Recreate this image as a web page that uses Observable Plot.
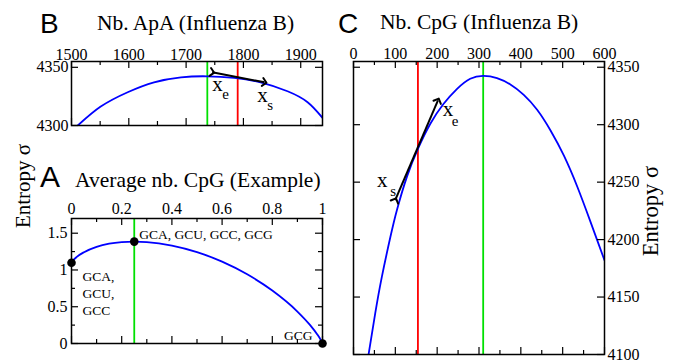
<!DOCTYPE html>
<html><head><meta charset="utf-8">
<script src="https://cdn.jsdelivr.net/npm/d3@7"></script>
<script src="https://cdn.jsdelivr.net/npm/@observablehq/plot@0.6"></script>
<style>
body{margin:0;background:#fff;}
#wrap{position:relative;width:680px;height:360px;overflow:hidden;background:#fff;}
#wrap > svg{position:absolute;}
</style></head><body><div id="wrap"></div>
<script>
// ---------- Panel B: Nb. ApA (Influenza B) ----------
const bX = [1511, 1551, 1598, 1644, 1691, 1737, 1784, 1830, 1877, 1912, 1938];
const bY = [4300, 4316.3, 4328.6, 4337.1, 4341.4, 4342.3, 4340.9, 4337.1, 4329.4, 4320, 4306.6];
const bGreen = 1737, bRed = 1790;
const bArrow = {x1: 1745.6, y1: 4345.7, x2: 1836.8, y2: 4337.1};
const bTopTicks = [1500, 1600, 1700, 1800, 1900];
const bTopMinor = [1550, 1650, 1750, 1850];
const bLeftTicks = [4300, 4350];

// ---------- Panel A: Average nb. CpG (Example) ----------
const aX = [0, 0.005, 0.01, 0.02, 0.05, 0.1, 0.15, 0.2, 0.25, 0.3, 0.4, 0.5, 0.6, 0.7, 0.8, 0.9, 0.95, 0.98, 0.99, 0.995, 1];
const aY = [1.099, 1.125, 1.144, 1.175, 1.242, 1.314, 1.357, 1.379, 1.386, 1.380, 1.332, 1.243, 1.113, 0.941, 0.720, 0.435, 0.253, 0.120, 0.067, 0.037, 0];
const aDotX = [0, 0.25, 1];
const aDotY = [1.099, 1.386, 0];
const aGreen = 0.25;
const aTopTicks = [0, 0.2, 0.4, 0.6, 0.8, 1];
const aTopMinor = [0.1, 0.3, 0.5, 0.7, 0.9];
const aLeftTicks = [0, 0.5, 1, 1.5];
const aLeftMinor = [0.25, 0.75, 1.25];
const aLabelTop = "GCA, GCU, GCC, GCG";
const aLabelLeft = "GCA,\nGCU,\nGCC";
const aLabelEnd = "GCG";

// ---------- Panel C: Nb. CpG (Influenza B) ----------
const cX = [36, 52, 68, 88, 104, 128, 154, 184, 215, 247, 279, 311, 343, 375, 407, 439, 471, 503, 535, 567, 600];
const cY = [4100, 4136, 4168, 4202, 4226, 4255, 4279, 4301, 4318, 4331, 4340, 4342.5, 4340.5, 4335, 4326, 4313, 4295, 4273, 4246, 4215, 4182];
const cGreen = 310, cRed = 154;
const cArrow = {x1: 99.7, y1: 4234.3, x2: 201.9, y2: 4321.1};
const cTopTicks = [0, 100, 200, 300, 400, 500, 600];
const cTopMinor = [50, 150, 250, 350, 450, 550];
const cRightTicks = [4100, 4150, 4200, 4250, 4300, 4350];

const titles = ["Nb. ApA (Influenza B)", "Average nb. CpG (Example)", "Nb. CpG (Influenza B)"];
const letters = ["B", "A", "C"];
const yTitle = "Entropy σ";

const SERIF = "Liberation Serif";
const BLUE = "#0000ff", GREEN = "#00e000", RED = "#ff0000";

function frameTicks({iw, ih, xMajor = [], xMinor = [], yMajor = [], yMinor = [], L = 7, l = 4}) {
  const st = {stroke: "black", strokeWidth: 1.2};
  return [
    Plot.ruleX(xMajor, {...st, insetBottom: ih - L}),
    Plot.ruleX(xMajor, {...st, insetTop: ih - L}),
    Plot.ruleX(xMinor, {...st, insetBottom: ih - l}),
    Plot.ruleX(xMinor, {...st, insetTop: ih - l}),
    Plot.ruleY(yMajor, {...st, insetRight: iw - L}),
    Plot.ruleY(yMajor, {...st, insetLeft: iw - L}),
    Plot.ruleY(yMinor, {...st, insetRight: iw - l}),
    Plot.ruleY(yMinor, {...st, insetLeft: iw - l})
  ];
}

function subLabel(pt, main, sub, dx, dy, sdx, sdy) {
  return [
    Plot.text([pt], {x: "x", y: "y", text: () => main, dx, dy, textAnchor: "start", lineAnchor: "bottom", fontSize: 21, fontFamily: SERIF}),
    Plot.text([pt], {x: "x", y: "y", text: () => sub, dx: sdx, dy: sdy, textAnchor: "start", lineAnchor: "bottom", fontSize: 15, fontFamily: SERIF})
  ];
}

const axisOpts = {tickSize: 0, label: null, fontSize: 16, fontFamily: SERIF, tickFormat: d => String(d)};
const baseStyle = {fontFamily: SERIF, fontSize: "16px", background: "transparent", color: "black", overflow: "visible"};
const wrap = document.getElementById("wrap");

// ---- B ----
{
  const mt = 61, mb = 15, ml = 71, mr = 18, w = 340, h = 140;
  const iw = w - ml - mr, ih = h - mt - mb;
  const data = bX.map((x, i) => ({x, y: bY[i]}));
  const p = Plot.plot({
    width: w, height: h, marginTop: mt, marginBottom: mb, marginLeft: ml, marginRight: mr,
    style: baseStyle,
    x: {domain: [1500, 1938]}, y: {domain: [4300, 4355]},
    marks: [
      Plot.ruleX([bGreen], {stroke: GREEN, strokeWidth: 1.8}),
      Plot.ruleX([bRed], {stroke: RED, strokeWidth: 1.8}),
      Plot.line(data, {x: "x", y: "y", stroke: BLUE, strokeWidth: 1.8, curve: "natural", clip: true}),
      Plot.link([bArrow], {x1: "x1", y1: "y1", x2: "x2", y2: "y2", stroke: "black", strokeWidth: 2, markerStart: "arrow", markerEnd: "arrow"}),
      ...subLabel({x: bArrow.x1, y: bArrow.y1}, "x", "e", 0, 18.3, 10, 26.6),
      ...subLabel({x: bArrow.x2, y: bArrow.y2}, "x", "s", -7.3, 20, 2.7, 27.3),
      ...frameTicks({iw, ih, xMajor: bTopTicks, xMinor: bTopMinor, yMajor: bLeftTicks}),
      Plot.axisX(bTopTicks, {...axisOpts, anchor: "top", tickPadding: 2}),
      Plot.axisY(bLeftTicks, {...axisOpts, anchor: "left", tickPadding: 3}),
      Plot.frame({stroke: "black", strokeWidth: 1.5})
    ]
  });
  p.style.left = "0px"; p.style.top = "0px";
  wrap.appendChild(p);
}

// ---- A ----
{
  const mt = 38, mb = 17, ml = 71, mr = 18, w = 340, h = 180;
  const iw = w - ml - mr, ih = h - mt - mb;
  const data = aX.map((x, i) => ({x, y: aY[i]}));
  const dots = aDotX.map((x, i) => ({x, y: aDotY[i]}));
  const p = Plot.plot({
    width: w, height: h, marginTop: mt, marginBottom: mb, marginLeft: ml, marginRight: mr,
    style: baseStyle,
    x: {domain: [0, 1]}, y: {domain: [0, 1.7]},
    marks: [
      Plot.ruleX([aGreen], {stroke: GREEN, strokeWidth: 1.8}),
      Plot.line(data, {x: "x", y: "y", stroke: BLUE, strokeWidth: 1.8, curve: "monotone-x"}),
      ...frameTicks({iw, ih, xMajor: aTopTicks, xMinor: aTopMinor, yMajor: aLeftTicks, yMinor: aLeftMinor}),
      Plot.dot(dots, {x: "x", y: "y", r: 4.3, fill: "black", stroke: "none"}),
      Plot.text([dots[1]], {x: "x", y: "y", text: () => aLabelTop, dx: 5, dy: -3, textAnchor: "start", lineAnchor: "bottom", fontSize: 13.5, fontFamily: SERIF}),
      Plot.text([dots[0]], {x: "x", y: "y", text: () => aLabelLeft, dx: 11, dy: 6.4, textAnchor: "start", lineAnchor: "top", lineHeight: 1.26, fontSize: 13.5, fontFamily: SERIF}),
      Plot.text([dots[2]], {x: "x", y: "y", text: () => aLabelEnd, dx: -10, dy: -4, textAnchor: "end", lineAnchor: "bottom", fontSize: 13.5, fontFamily: SERIF}),
      Plot.axisX(aTopTicks, {...axisOpts, anchor: "top", tickPadding: 5}),
      Plot.axisY(aLeftTicks, {...axisOpts, anchor: "left", tickPadding: 4}),
      Plot.frame({stroke: "black", strokeWidth: 1.5})
    ]
  });
  p.style.left = "0px"; p.style.top = "180px";
  wrap.appendChild(p);
}

// ---- C ----
{
  const mt = 61, mb = 6, ml = 13, mr = 76, w = 340, h = 360;
  const iw = w - ml - mr, ih = h - mt - mb;
  const data = cX.map((x, i) => ({x, y: cY[i]}));
  const p = Plot.plot({
    width: w, height: h, marginTop: mt, marginBottom: mb, marginLeft: ml, marginRight: mr,
    style: baseStyle,
    x: {domain: [0, 600]}, y: {domain: [4100, 4355]},
    marks: [
      Plot.ruleX([cGreen], {stroke: GREEN, strokeWidth: 1.8}),
      Plot.ruleX([cRed], {stroke: RED, strokeWidth: 1.8}),
      Plot.line(data, {x: "x", y: "y", stroke: BLUE, strokeWidth: 1.8, curve: "natural", clip: true}),
      Plot.link([cArrow], {x1: "x1", y1: "y1", x2: "x2", y2: "y2", stroke: "black", strokeWidth: 2, markerStart: "arrow", markerEnd: "arrow"}),
      ...subLabel({x: cArrow.x1, y: cArrow.y1}, "x", "s", -18.3, -12.7, -5, -4.4),
      ...subLabel({x: cArrow.x2, y: cArrow.y2}, "x", "e", 4.9, 15.8, 13.9, 25.1),
      ...frameTicks({iw, ih, xMajor: cTopTicks, xMinor: cTopMinor, yMajor: cRightTicks}),
      Plot.axisX(cTopTicks, {...axisOpts, anchor: "top", tickPadding: 2.5}),
      Plot.axisY(cRightTicks, {...axisOpts, anchor: "right", tickPadding: 3}),
      Plot.frame({stroke: "black", strokeWidth: 1.5})
    ]
  });
  p.style.left = "340px"; p.style.top = "0px";
  wrap.appendChild(p);
}

// ---- overlay texts: panel letters, titles, y titles ----
{
  const svg = d3.create("svg").attr("width", 680).attr("height", 360)
    .style("left", "0px").style("top", "0px").style("pointer-events", "none");
  const tpos = [[97, 30], [75, 187], [380, 28.5]];
  const lpos = [[40, 33, 28], [40, 187, 30], [338, 33, 28]];
  titles.forEach((t, i) => svg.append("text").attr("x", tpos[i][0]).attr("y", tpos[i][1])
    .attr("font-family", SERIF).attr("font-size", 21.5).attr("fill", "black").text(t));
  letters.forEach((t, i) => svg.append("text").attr("x", lpos[i][0]).attr("y", lpos[i][1])
    .attr("font-family", "Liberation Sans").attr("font-size", lpos[i][2]).attr("fill", "black").text(t));
  svg.append("text").attr("transform", "translate(30,186) rotate(-90)").attr("text-anchor", "middle")
    .attr("font-family", SERIF).attr("font-size", 21).attr("fill", "black").text(yTitle);
  svg.append("text").attr("transform", "translate(658,211) rotate(-90)").attr("text-anchor", "middle")
    .attr("font-family", SERIF).attr("font-size", 22.5).attr("fill", "black").text(yTitle);
  wrap.appendChild(svg.node());
}
</script></body></html>
